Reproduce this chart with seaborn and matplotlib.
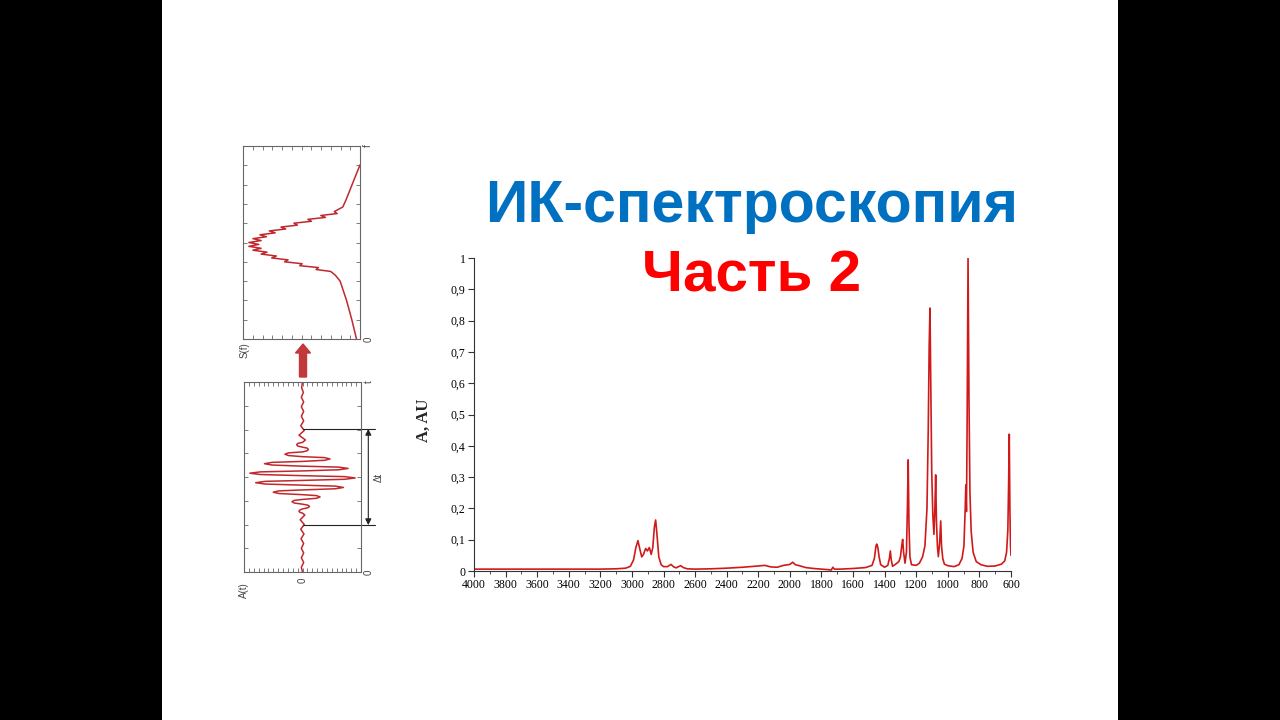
import matplotlib
matplotlib.use("Agg")
import matplotlib.pyplot as plt
import seaborn as sns
from matplotlib.ticker import MultipleLocator
from matplotlib.patches import FancyArrow, Rectangle
from matplotlib.transforms import IdentityTransform

# ИК-спектр: волновое число (см-1) и поглощение (A, AU)
wavenumber = [4000, 3800, 3600, 3400, 3200, 3100, 3040, 3010, 2990, 2975,
              2962, 2950, 2938, 2928, 2913, 2902, 2890, 2878, 2868, 2858,
              2850, 2842, 2830, 2815, 2800, 2775, 2753, 2735, 2720, 2705,
              2691, 2675, 2650, 2600, 2500, 2400, 2300, 2200, 2160, 2120,
              2080, 2040, 2000, 1982, 1965, 1940, 1900, 1850, 1800, 1750,
              1738, 1728, 1718, 1680, 1600, 1520, 1480, 1465, 1455, 1450,
              1443, 1435, 1425, 1400, 1380, 1370, 1364, 1358, 1350, 1330,
              1310, 1300, 1292, 1286, 1280, 1271, 1262, 1256, 1251, 1246,
              1240, 1230, 1200, 1180, 1160, 1145, 1132, 1124, 1118, 1113,
              1108, 1102, 1095, 1088, 1082, 1077, 1072, 1066, 1060, 1052,
              1045, 1040, 1032, 1022, 1000, 960, 930, 910, 898, 890,
              886, 882, 878, 872, 866, 860, 852, 840, 820, 790,
              750, 700, 660, 640, 628, 620, 615, 611, 607, 603, 600]
absorbance = [0.006, 0.006, 0.006, 0.006, 0.006, 0.007, 0.009, 0.015, 0.035, 0.075,
              0.097, 0.070, 0.045, 0.052, 0.072, 0.064, 0.075, 0.053, 0.075, 0.140,
              0.163, 0.120, 0.045, 0.020, 0.014, 0.014, 0.021, 0.013, 0.010, 0.014,
              0.017, 0.011, 0.007, 0.006, 0.007, 0.009, 0.012, 0.016, 0.018, 0.013,
              0.012, 0.018, 0.021, 0.028, 0.020, 0.017, 0.011, 0.008, 0.006, 0.004,
              0.003, 0.012, 0.006, 0.006, 0.008, 0.011, 0.018, 0.040, 0.080, 0.086,
              0.075, 0.045, 0.020, 0.012, 0.018, 0.040, 0.064, 0.035, 0.015, 0.022,
              0.030, 0.045, 0.080, 0.101, 0.060, 0.025, 0.060, 0.200, 0.355, 0.150,
              0.045, 0.020, 0.018, 0.025, 0.045, 0.080, 0.200, 0.450, 0.720, 0.840,
              0.600, 0.320, 0.180, 0.117, 0.200, 0.307, 0.160, 0.080, 0.046, 0.090,
              0.160, 0.080, 0.040, 0.022, 0.017, 0.014, 0.020, 0.040, 0.080, 0.200,
              0.275, 0.190, 0.450, 1.000, 0.550, 0.250, 0.126, 0.060, 0.030, 0.020,
              0.015, 0.016, 0.022, 0.032, 0.060, 0.130, 0.280, 0.437, 0.200, 0.080, 0.050]

x_ticks = [4000, 3800, 3600, 3400, 3200, 3000, 2800, 2600, 2400, 2200,
           2000, 1800, 1600, 1400, 1200, 1000, 800, 600]
y_ticks = [0, 0.1, 0.2, 0.3, 0.4, 0.5, 0.6, 0.7, 0.8, 0.9, 1]
y_tick_labels = ['0', '0,1', '0,2', '0,3', '0,4', '0,5', '0,6', '0,7', '0,8', '0,9', '1']

# спектр S(f) (повёрнутый график)
s_freq = [0.0, 1.0, 2.0, 3.0, 3.3, 3.5, 3.6, 3.7, 3.8, 3.9,
          4.0, 4.1, 4.2, 4.3, 4.4, 4.5, 4.6, 4.7, 4.8, 4.9,
          5.0, 5.1, 5.2, 5.3, 5.4, 5.5, 5.6, 5.7, 5.8, 5.9,
          6.0, 6.1, 6.2, 6.3, 6.4, 6.5, 6.6, 6.84, 7.2, 7.72, 8.6, 9.02]
s_value = [0.03, 0.07, 0.115, 0.17, 0.21, 0.25, 0.375, 0.355, 0.515, 0.495,
           0.645, 0.615, 0.755, 0.715, 0.845, 0.795, 0.915, 0.845, 0.95, 0.865,
           0.95, 0.845, 0.915, 0.80, 0.855, 0.725, 0.775, 0.635, 0.675, 0.535,
           0.565, 0.415, 0.445, 0.295, 0.335, 0.195, 0.22, 0.147, 0.12, 0.086, 0.028, 0.0]

# интерферограмма A(t) (повёрнутый график)
a_time = [0.00, 0.25, 0.50, 0.75, 1.00, 1.25, 1.50, 1.75, 2.00, 2.25,
          2.50, 2.75, 3.00, 3.10, 3.14, 3.20, 3.26, 3.32, 3.38, 3.45,
          3.52, 3.57, 3.63, 3.70, 3.77, 3.82, 3.88, 3.95, 4.02, 4.07,
          4.13, 4.20, 4.27, 4.32, 4.38, 4.45, 4.52, 4.57, 4.63, 4.70,
          4.77, 4.82, 4.88, 4.95, 5.02, 5.07, 5.13, 5.20, 5.27, 5.32,
          5.38, 5.45, 5.52, 5.57, 5.63, 5.70, 5.77, 5.82, 5.88, 5.95,
          6.02, 6.07, 6.13, 6.20, 6.27, 6.32, 6.38, 6.45, 6.52, 6.57,
          6.63, 6.70, 6.77, 6.82, 6.95, 7.20, 7.45, 7.70, 7.95, 8.20,
          8.45, 8.70, 8.95, 9.20, 9.45, 9.70, 10.0]
a_value = [0.0, 0.02, -0.02, 0.02, -0.02, 0.02, -0.02, 0.025, -0.025, 0.03,
           -0.03, 0.04, -0.04, 0.0, 0.045, 0.06, 0.045, 0.0, -0.09, -0.12,
           -0.09, 0.0, 0.14, 0.18, 0.14, 0.0, -0.24, -0.30, -0.24, 0.0,
           0.40, 0.50, 0.40, 0.0, -0.56, -0.70, -0.56, 0.0, 0.64, 0.80,
           0.64, 0.0, -0.72, -0.90, -0.72, 0.0, 0.72, 0.90, 0.72, 0.0,
           -0.62, -0.78, -0.62, 0.0, 0.52, 0.65, 0.52, 0.0, -0.38, -0.47,
           -0.38, 0.0, 0.24, 0.30, 0.24, 0.0, -0.08, -0.10, -0.08, 0.0,
           0.08, 0.10, 0.08, 0.0, -0.05, 0.06, -0.03, 0.03, -0.02, 0.02,
           -0.02, 0.02, -0.02, 0.02, -0.015, 0.015, 0.0]

sns.set_style("white")
plt.rcParams['font.family'] = ['Liberation Sans', 'DejaVu Sans']

W, H = 1280, 720
fig = plt.figure(figsize=(12.8, 7.2), dpi=100, facecolor='black')
fig.add_artist(Rectangle((162 / W, 0), 956 / W, 1, transform=fig.transFigure,
                         facecolor='white', edgecolor='none', zorder=-5))

# заголовок
fig.text(752 / W, 1 - 222 / H, 'ИК-спектроскопия', ha='center', va='baseline',
         fontsize=42.5, fontweight='bold', color='#0070C0')
fig.text(752 / W, 1 - 292 / H, 'Часть 2', ha='center', va='baseline',
         fontsize=42, fontweight='bold', color='#FF0000')

# основной спектр
ax = fig.add_axes([474 / W, 149 / H, 537 / W, 313 / H])
ax.set_facecolor('none')
sns.lineplot(x=wavenumber, y=absorbance, ax=ax, color='#d01a1a', lw=1.2,
             sort=False, estimator=None)
ax.set_xlim(4000, 600)
ax.set_ylim(0, 1)
sns.despine(ax=ax)
for sp in ['left', 'bottom']:
    ax.spines[sp].set_color('#333333')
    ax.spines[sp].set_linewidth(0.8)
ax.set_xticks(x_ticks)
ax.set_xticklabels([str(v) for v in x_ticks])
ax.xaxis.set_minor_locator(MultipleLocator(100))
ax.set_yticks(y_ticks)
ax.set_yticklabels(y_tick_labels)
ax.tick_params(which='major', direction='out', length=4, width=0.8, labelsize=8.5,
               pad=2, bottom=True, left=True, colors='#333333', labelcolor='black')
ax.tick_params(which='minor', direction='out', length=2.5, width=0.6, bottom=True,
               colors='#333333')
for lab in ax.get_xticklabels() + ax.get_yticklabels():
    lab.set_fontfamily('Liberation Serif')
ax.set_ylabel('A, AU', fontfamily='Liberation Serif', fontweight='bold', fontsize=12)
ax.yaxis.set_label_coords(-0.078, 0.48)
ax.set_xlabel('')


def small_box(rect, ylocator):
    a = fig.add_axes(rect)
    a.set_facecolor('white')
    for sp in a.spines.values():
        sp.set_color('#666666')
        sp.set_linewidth(0.8)
    a.xaxis.set_major_locator(MultipleLocator(1 / 12))
    a.yaxis.set_major_locator(MultipleLocator(ylocator))
    a.tick_params(direction='in', length=3, width=0.6, colors='#666666',
                  top=True, right=True, bottom=True, left=True,
                  labelbottom=False, labelleft=False)
    return a


lab_kw = dict(fontsize=7, color='#444444', rotation=90, ha='center', va='center',
              fontfamily='Liberation Sans', clip_on=False)

# верхний график S(f)
ax_s = small_box([243 / W, 381 / H, 117 / W, 193 / H], 1)
sns.lineplot(x=s_value, y=s_freq, ax=ax_s, color='#c0282d', lw=1.1,
             sort=False, estimator=None)
ax_s.set_xlim(1, 0)
ax_s.set_ylim(0, 10)
ax_s.set_xlabel('')
ax_s.set_ylabel('')
ax_s.text(-0.07, 10.0, 'f', **lab_kw)
ax_s.text(-0.07, 0.0, '0', **lab_kw)
ax_s.text(0.99, -0.6, 'S(f)', **lab_kw)

# нижний график A(t)
ax_a = small_box([244 / W, 148 / H, 117 / W, 190 / H], 1.25)
sns.lineplot(x=a_value, y=a_time, ax=ax_a, color='#c0282d', lw=1.1,
             sort=False, estimator=None)
ax_a.set_xlim(1, -1)
ax_a.set_ylim(0, 10)
ax_a.set_xlabel('')
ax_a.set_ylabel('')
ax_a.text(-1.13, 10.0, 't', **lab_kw)
ax_a.text(-1.13, 0.0, '0', **lab_kw)
ax_a.text(0.0, -0.45, '0', **lab_kw)
ax_a.text(1.0, -0.95, 'A(t)', **lab_kw)

# отметка Δt
for tt in [7.53, 2.47]:
    ax_a.plot([0, -1.245], [tt, tt], color='#222222', lw=0.8, clip_on=False)
ax_a.annotate('', xy=(-1.125, 7.53), xytext=(-1.125, 2.47),
              arrowprops=dict(arrowstyle='<|-|>', color='#222222', lw=0.8,
                              shrinkA=0, shrinkB=0, mutation_scale=9),
              annotation_clip=False)
ax_a.text(-1.3, 5.0, 'Δt', **lab_kw)

# стрелка между графиками
fig.add_artist(FancyArrow(303, H - 377, 0, 33, width=7, head_width=15, head_length=9,
                          length_includes_head=True, color='#c0393b',
                          transform=IdentityTransform()))

fig.savefig('out.png', dpi=100, facecolor=fig.get_facecolor())
